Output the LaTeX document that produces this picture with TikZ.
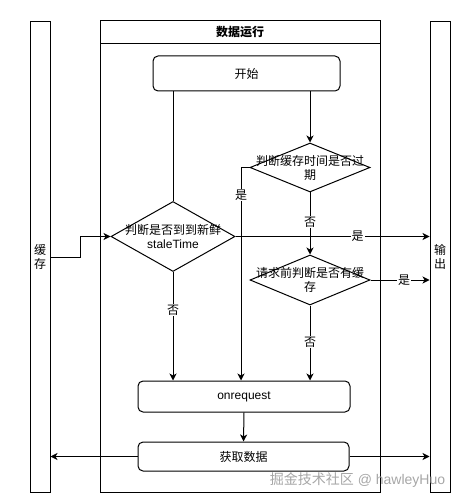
\documentclass[tikz,border=0pt]{standalone}
\usepackage{fontspec}
\setmainfont{Liberation Sans}
\newfontfamily\cjk{Noto Sans CJK SC}
\usetikzlibrary{arrows.meta, shapes.geometric}

\begin{document}
\begin{tikzpicture}[x=1pt, y=-1pt, line width=1pt, >={Stealth[length=7pt, width=7pt, inset=2pt]}, every node/.style={font=\fontsize{12}{14}\selectfont}]
	\tikzstyle{laneNode} = [draw, minimum width=20pt, minimum height=470pt, inner sep=0pt, align=center]
	\tikzstyle{boxNode} = [draw, rounded corners=5pt, align=center]
	\tikzstyle{decisionNode} = [draw, diamond, inner sep=0pt]
	\tikzstyle{tagNode} = [fill=white, inner sep=1pt]
	\useasboundingbox (0,0) rectangle (463,502);
	% lanes
	\node[laneNode] (cache) at (40,257) {\cjk 缓\\\cjk 存};
	\node[laneNode] (output) at (440,257) {\cjk 输\\\cjk 出};
	\node[draw, minimum width=280pt, minimum height=471pt] (pool) at (240,256.5) {};
	\node[draw, minimum width=280pt, minimum height=23pt] (title) at (240,32.5) {\cjk\bfseries 数据运行};
	% steps
	\node[boxNode, minimum width=187pt, minimum height=35pt] (start) at (246.5,73.5) {\cjk 开始};
	\node[decisionNode, minimum width=120pt, minimum height=49pt, label={[align=center]center:{\cjk 判断缓存时间是否过}\\{\cjk 期}}] (expired) at (310,167.5) {};
	\node[decisionNode, minimum width=124pt, minimum height=70pt, label={[align=center]center:{\cjk 判断是否到到新鲜}\\staleTime}] (fresh) at (173,236.5) {};
	\node[decisionNode, minimum width=120pt, minimum height=50pt, label={[align=center]center:{\cjk 请求前判断是否有缓}\\{\cjk 存}}] (hasCache) at (310,280) {};
	\node[boxNode, minimum width=212pt, minimum height=31pt] (request) at (244,396.5) {onrequest};
	\node[boxNode, minimum width=211pt, minimum height=29pt] (fetch) at (243.5,456.5) {\cjk 获取数据};
	\node[text=gray!70, font=\fontsize{14}{16}\selectfont, anchor=east] (mark) at (449,480) {{\cjk 掘金技术社区} @ hawleyHuo};
	\coordinate (yesLine) at (241,0);
	\coordinate (inBend) at (80,0);
	% connectors
	\draw (fresh.north |- start.south) -- (fresh.north);
	\draw[->] (expired.north |- start.south) -- (expired.north);
	\draw[->] (expired.west) -- (yesLine |- expired.west) -- (yesLine |- request.north) node[tagNode, pos=0.13] {\cjk 是};
	\draw[->] (expired.south) -- (hasCache.north) node[tagNode, pos=0.48] {\cjk 否};
	\draw[->] (cache.east) -| (inBend |- fresh.west) -- (fresh.west);
	\draw[->] (fresh.east) -- (fresh.east -| output.west) node[tagNode, pos=0.63] {\cjk 是};
	\draw[->] (fresh.south) -- (fresh.south |- request.north) node[tagNode, pos=0.35] {\cjk 否};
	\draw[->] (hasCache.east) -- (hasCache.east -| output.west) node[tagNode, pos=0.57] {\cjk 是};
	\draw[->] (hasCache.south) -- (hasCache.south |- request.north) node[tagNode, pos=0.49] {\cjk 否};
	\draw[->] (request.south) -- (fetch.north);
	\draw[->] (fetch.west) -- (fetch.west -| cache.east);
	\draw[->] (fetch.east) -- (fetch.east -| output.west);
\end{tikzpicture}
\end{document}
